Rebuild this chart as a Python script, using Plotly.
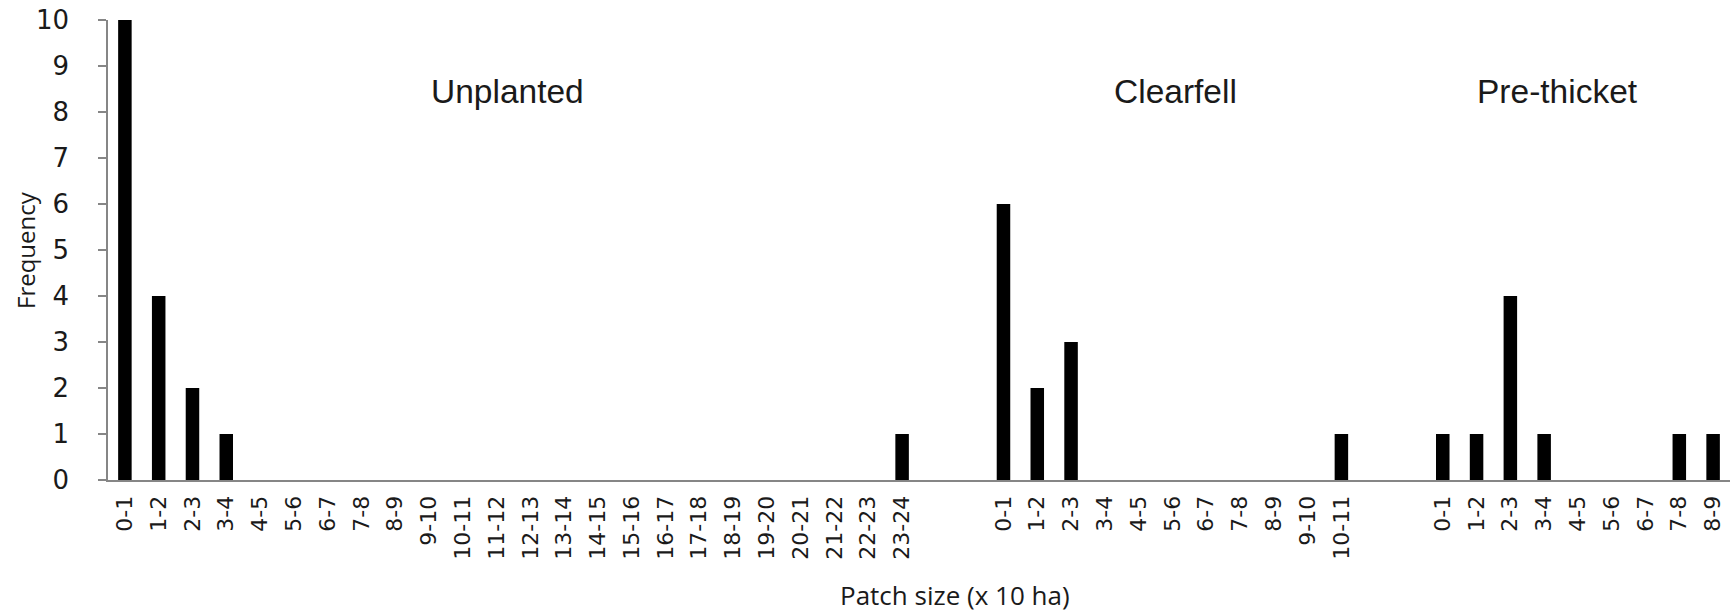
import plotly.graph_objects as go

# ---- data ----
unplanted_labels = ["0-1", "1-2", "2-3", "3-4", "4-5", "5-6", "6-7", "7-8", "8-9", "9-10",
                    "10-11", "11-12", "12-13", "13-14", "14-15", "15-16", "16-17", "17-18",
                    "18-19", "19-20", "20-21", "21-22", "22-23", "23-24"]
unplanted_values = [10, 4, 2, 1, 0, 0, 0, 0, 0, 0, 0, 0, 0, 0, 0, 0, 0, 0, 0, 0, 0, 0, 0, 1]

clearfell_labels = ["0-1", "1-2", "2-3", "3-4", "4-5", "5-6", "6-7", "7-8", "8-9", "9-10", "10-11"]
clearfell_values = [6, 2, 3, 0, 0, 0, 0, 0, 0, 0, 1]

prethicket_labels = ["0-1", "1-2", "2-3", "3-4", "4-5", "5-6", "6-7", "7-8", "8-9"]
prethicket_values = [1, 1, 4, 1, 0, 0, 0, 1, 1]

group_names = ["Unplanted", "Clearfell", "Pre-thicket"]
y_ticks = list(range(0, 11))
GAP = 2  # empty category slots between groups

groups = [(unplanted_labels, unplanted_values),
          (clearfell_labels, clearfell_values),
          (prethicket_labels, prethicket_values)]

xs, ys, labels = [], [], []
pos = 0
for labs, vals in groups:
    for lab, v in zip(labs, vals):
        xs.append(pos)
        ys.append(v)
        labels.append(lab)
        pos += 1
    pos += GAP
n_slots = pos - GAP

fig = go.Figure()
fig.add_trace(go.Bar(x=xs, y=ys, width=0.4, marker=dict(color="black", line=dict(width=0)),
                     showlegend=False))

axis_gray = "#868686"
fig.update_layout(
    width=1735, height=614,
    margin=dict(l=108, r=5, t=20, b=134),
    plot_bgcolor="white", paper_bgcolor="white",
    font=dict(family="DejaVu Sans", color="#1a1a1a"),
    xaxis=dict(
        range=[-0.5, n_slots - 0.5],
        tickmode="array", tickvals=xs, ticktext=labels,
        tickangle=-90, tickfont=dict(family="DejaVu Sans", size=22, color="#1a1a1a"),
        ticks="", showgrid=False, zeroline=False,
        showline=True, linecolor=axis_gray, linewidth=2,
        ticklabelstandoff=5,
    ),
    yaxis=dict(
        range=[0, 10], tickmode="array", tickvals=y_ticks,
        tickfont=dict(family="DejaVu Sans", size=26, color="#1a1a1a"),
        ticks="outside", ticklen=8, tickcolor=axis_gray, tickwidth=1.5,
        showgrid=False, zeroline=False,
        showline=True, linecolor=axis_gray, linewidth=1.5,
        ticklabelstandoff=24,
    ),
)

# group names placed over their groups (x in data coordinates)
name_positions = [11.32, 31.1, 42.4]
for name, xp in zip(group_names, name_positions):
    fig.add_annotation(x=xp, y=1 - (91 - 20) / 460.0, xref="x", yref="paper",
                       yanchor="middle", text=name, showarrow=False,
                       font=dict(family="Liberation Sans", size=33.5, color="#1a1a1a"))

fig.add_annotation(x=-83 / 1622.0, y=0.5, xref="paper", yref="paper",
                   text="Frequency", textangle=-90, showarrow=False,
                   xanchor="center", yanchor="middle",
                   font=dict(family="Open Sans", size=24, color="#1a1a1a"))
fig.add_annotation(x=(955 - 108) / 1622.0, y=-(595 - 480) / 460.0, xref="paper", yref="paper",
                   text="Patch size (x 10 ha)", showarrow=False,
                   xanchor="center", yanchor="middle",
                   font=dict(family="Open Sans", size=26, color="#1a1a1a"))

fig.write_html("out.html")
